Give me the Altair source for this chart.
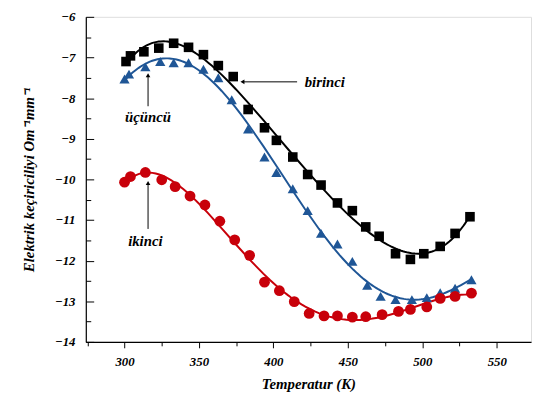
import altair as alt
import pandas as pd

# ---- data ----
series_names = ["birinci", "ikinci", "üçüncü"]

K_birinci = [301, 304, 313, 323, 333, 343, 353, 363, 373, 383, 394, 402, 413,
             423, 432, 443, 453, 462, 471, 482, 492, 501, 512, 522, 532]
V_birinci = [-7.10, -6.96, -6.86, -6.77, -6.65, -6.75, -6.93, -7.20, -7.47, -8.28,
             -8.73, -9.04, -9.45, -9.88, -10.14, -10.58, -10.77, -11.17, -11.40,
             -11.83, -11.97, -11.83, -11.65, -11.33, -10.92]

K_ucuncu = [300, 303, 314, 324, 333, 343, 353, 363, 372, 383, 394, 402, 413,
            423, 432, 443, 453, 463, 472, 482, 493, 503, 512, 522, 533]
V_ucuncu = [-7.53, -7.41, -7.23, -7.10, -7.13, -7.13, -7.29, -7.50, -8.04, -8.76,
            -9.45, -9.83, -10.23, -10.77, -11.33, -11.59, -12.02, -12.61, -12.88,
            -12.96, -12.96, -12.91, -12.79, -12.68, -12.47]

K_ikinci = [300, 304, 314, 325, 334, 344, 354, 364, 374, 384, 394, 404, 414,
            424, 434, 443, 453, 462, 473, 484, 492, 503, 512, 522, 533]
V_ikinci = [-10.07, -9.93, -9.83, -10.01, -10.18, -10.41, -10.63, -11.03, -11.49,
            -11.87, -12.53, -12.74, -13.01, -13.30, -13.36, -13.36, -13.39, -13.38,
            -13.33, -13.25, -13.20, -13.14, -12.93, -12.88, -12.80]

x_ticks = [300, 350, 400, 450, 500, 550]
x_minor = [275, 325, 375, 425, 475, 525]
y_ticks = [-14, -13, -12, -11, -10, -9, -8, -7, -6]
y_minor = [-13.5, -12.5, -11.5, -10.5, -9.5, -8.5, -7.5, -6.5]

# annotation labels and arrows (data coordinates)
ann_text = ["birinci", "üçüncü", "ikinci"]
ann_tx = [421, 315.8, 314]
ann_ty = [-7.6, -8.47, -11.51]
arrow_x1 = [415.9, 315.8, 315.8]
arrow_y1 = [-7.6, -8.20, -11.22]
arrow_x2 = [379.2, 315.8, 315.8]
arrow_y2 = [-7.6, -7.44, -10.09]
arrow_head = ["triangle-left", "triangle-up", "triangle-up"]

rows = []
for name, ks, vs in [("birinci", K_birinci, V_birinci),
                     ("üçüncü", K_ucuncu, V_ucuncu),
                     ("ikinci", K_ikinci, V_ikinci)]:
    for k, v in zip(ks, vs):
        rows.append({"series": name, "K": k, "V": v})
df = pd.DataFrame(rows)

ann = pd.DataFrame({"text": ann_text, "tx": ann_tx, "ty": ann_ty,
                    "x1": arrow_x1, "y1": arrow_y1, "x2": arrow_x2, "y2": arrow_y2,
                    "head": arrow_head, "align": ["left", "center", "center"]})

FONT = "'Liberation Serif', 'Times New Roman', serif"
W, H = 452, 330
xs = alt.Scale(domain=[274, 573], nice=False, zero=False)
ys = alt.Scale(domain=[-14, -6], nice=False, zero=False)

order = ["birinci", "üçüncü", "ikinci"]
col_scale = alt.Scale(domain=order, range=["#000000", "#1F5696", "#C8000A"])
shape_scale = alt.Scale(domain=order, range=["square", "triangle-up", "circle"])
size_scale = alt.Scale(domain=order, range=[95, 120, 80])

lab = dict(labelFont=FONT, labelFontSize=13, labelFontWeight="bold",
           labelFontStyle="italic", labelColor="#000", grid=False)

# main axes: labels + titles
axis_main = alt.Chart(df).mark_point(opacity=0).encode(
    x=alt.X("K:Q", scale=xs, axis=alt.Axis(
        orient="bottom", values=x_ticks, tickSize=6, tickColor="#000",
        domainColor="#000", domainWidth=1.2, labelPadding=8,
        title="Temperatur (K)", titleFont=FONT, titleFontSize=15,
        titleFontWeight="bold", titleFontStyle="italic", titlePadding=8,
        titleColor="#000", **lab)),
    y=alt.Y("V:Q", scale=ys, axis=alt.Axis(
        orient="left", values=y_ticks, ticks=False, domainColor="#000",
        domainWidth=1.2, labelPadding=11, format="d",
        title="Elektrik keçiriciliyi Om⁻¹mm⁻¹", titleFont=FONT, titleFontSize=15,
        titleFontWeight="bold", titleFontStyle="italic", titlePadding=18,
        titleColor="#000", **lab)),
)

# inward major y ticks + x minor ticks
axis_ticks = alt.Chart(df).mark_point(opacity=0).encode(
    x=alt.X("K:Q", scale=xs, axis=alt.Axis(
        orient="bottom", values=x_minor, tickSize=4, tickColor="#000",
        labels=False, domain=False, title=None, grid=False)),
    y=alt.Y("V:Q", scale=ys, axis=alt.Axis(
        orient="right", offset=-W, values=y_ticks, tickSize=8, tickColor="#000",
        labels=False, domain=False, title=None, grid=False)),
)

# inward minor y ticks
axis_minor = alt.Chart(df).mark_point(opacity=0).encode(
    x=alt.X("K:Q", scale=xs, axis=None),
    y=alt.Y("V:Q", scale=ys, axis=alt.Axis(
        orient="right", offset=-W, values=y_minor, tickSize=5, tickColor="#000",
        labels=False, domain=False, title=None, grid=False)),
)

fit = alt.Chart(df).transform_regression(
    "K", "V", groupby=["series"], method="poly", order=5
).mark_line(strokeWidth=2).encode(
    x=alt.X("K:Q", scale=xs, axis=None),
    y=alt.Y("V:Q", scale=ys, axis=None),
    color=alt.Color("series:N", scale=col_scale, legend=None),
    detail="series:N",
)

pts = alt.Chart(df).mark_point(filled=True, opacity=1).encode(
    x=alt.X("K:Q", scale=xs, axis=None),
    y=alt.Y("V:Q", scale=ys, axis=None),
    color=alt.Color("series:N", scale=col_scale, legend=None),
    shape=alt.Shape("series:N", scale=shape_scale, legend=None),
    size=alt.Size("series:N", scale=size_scale, legend=None),
)

arrows = alt.Chart(ann).mark_rule(color="#000", strokeWidth=1).encode(
    x=alt.X("x1:Q", scale=xs, axis=None), x2="x2:Q",
    y=alt.Y("y1:Q", scale=ys, axis=None), y2="y2:Q",
)

heads = alt.Chart(ann).mark_point(filled=True, opacity=1, size=22, color="#000").encode(
    x=alt.X("x2:Q", scale=xs, axis=None),
    y=alt.Y("y2:Q", scale=ys, axis=None),
    shape=alt.Shape("head:N", scale=None, legend=None),
)

labels_left = alt.Chart(ann[ann["align"] == "left"]).mark_text(
    font=FONT, fontSize=15, fontWeight="bold", fontStyle="italic",
    align="left", baseline="middle", color="#000").encode(
    x=alt.X("tx:Q", scale=xs, axis=None),
    y=alt.Y("ty:Q", scale=ys, axis=None),
    text="text:N",
)
labels_center = alt.Chart(ann[ann["align"] == "center"]).mark_text(
    font=FONT, fontSize=15, fontWeight="bold", fontStyle="italic",
    align="center", baseline="middle", color="#000").encode(
    x=alt.X("tx:Q", scale=xs, axis=None),
    y=alt.Y("ty:Q", scale=ys, axis=None),
    text="text:N",
)

chart = alt.layer(
    axis_main, axis_ticks, axis_minor, fit, pts, arrows, heads,
    labels_left, labels_center
).resolve_axis(x="independent", y="independent").properties(
    width=W, height=H,
    autosize=alt.AutoSizeParams(type="none"),
    padding={"left": 79, "top": 6, "right": 1, "bottom": 55},
).configure_view(stroke=None).configure(background="#ffffff")

chart.save("out.html", embed_options={"renderer": "svg", "actions": False})
